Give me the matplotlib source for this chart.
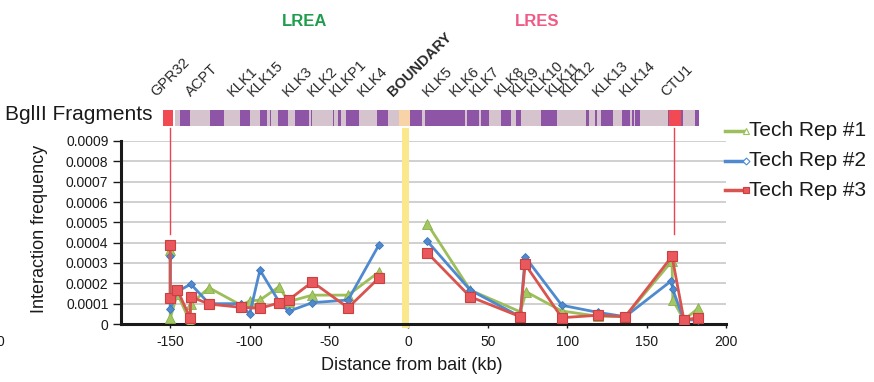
import matplotlib
matplotlib.use("Agg")
import matplotlib.pyplot as plt
import numpy as np
from matplotlib.lines import Line2D
from matplotlib.transforms import blended_transform_factory

plt.rcParams['font.family'] = ['Liberation Sans', 'DejaVu Sans']

# ---------------- data ----------------
rep1_x = [-150, -150, -145.5, -137.5, -137, -125.5, -105.5, -100, -93.5, -81.5, -75.5, -60.5, -38, -18.5,
          11.8, 38.9, 70.4, 74.2, 96.6, 119.5, 136.5, 166, 166.5, 173.5, 182.5]
rep1_y = [0.000363, 0.000028, 0.00015, 0.00001, 0.0001, 0.000178, 0.000093, 0.000113, 0.000118, 0.000183,
          0.00011, 0.000142, 0.000142, 0.000256,
          0.000494, 0.000167, 0.00006, 0.000158, 0.000064, 0.000038, 0.000036, 0.00031, 0.000118, 0.00002, 0.000077]

rep2_x = [-150, -150, -145.5, -137, -125.5, -105.5, -100, -93.5, -81.5, -75.5, -60.5, -38, -18.5,
          11.8, 38.9, 70.4, 73.5, 96.6, 119.5, 136.5, 165.5, 166.5, 173.5, 182.5]
rep2_y = [0.000335, 0.000074, 0.00016, 0.000196, 0.0001, 0.0001, 0.000048, 0.000265, 0.00011, 0.000062,
          0.000105, 0.000118, 0.00039,
          0.000408, 0.000167, 0.000036, 0.00033, 0.000092, 0.000057, 0.000036, 0.000212, 0.00017, 0.00002, 0.00002]

rep3_x = [-150, -150, -145.5, -137.5, -137, -125.5, -105.5, -93.5, -81.5, -75.5, -60.5, -38, -18.5,
          11.8, 38.9, 70.4, 73.5, 96.6, 119.5, 136.5, 166, 173.5, 182.5]
rep3_y = [0.00039, 0.000126, 0.000167, 0.000031, 0.000134, 0.000098, 0.000082, 0.000077, 0.000104, 0.000118,
          0.000207, 0.00008, 0.000227,
          0.000351, 0.000134, 0.000036, 0.000294, 0.000031, 0.000043, 0.000036, 0.000333, 0.00002, 0.000031]

series_names = ['Tech Rep #1', 'Tech Rep #2', 'Tech Rep #3']

gene_names = ['GPR32', 'ACPT', 'KLK1', 'KLK15', 'KLK3', 'KLK2', 'KLKP1', 'KLK4', 'BOUNDARY',
              'KLK5', 'KLK6', 'KLK7', 'KLK8', 'KLK9', 'KLK10', 'KLK11', 'KLK12', 'KLK13', 'KLK14', 'CTU1']
gene_pos = [-159, -137, -110.7, -98, -76, -60.3, -46.6, -28.8, -9.9,
            12.2, 29, 41.6, 57.3, 66.8, 78.3, 89.9, 98.3, 119.3, 136.1, 162.4]

# BglII fragment map (start, end) in kb
frag_light = [(-146.8, 183.3)]
frag_purple = [(-143.7, -137.4), (-124.8, -115.9), (-105.9, -99.6), (-93.3, -89.2), (-87.0, -86.3),
               (-81.9, -75.6), (-71.2, -62.8), (-61.1, -60.5), (-47.3, -46.6), (-44.1, -42.5),
               (-39.1, -31.3), (-19.7, -12.6), (0.9, 8.6), (10.7, 35.7), (37.0, 44.7), (45.4, 51.0),
               (58.0, 64.3), (67.9, 71.2), (83.2, 93.7), (112.0, 114.0), (117.6, 118.9), (121.4, 128.9),
               (134.8, 139.3), (140.7, 141.8), (142.6, 146.0), (163.4, 164.4), (171.8, 172.8), (180.2, 183.3)]
frag_red = [(-154.8, -148.1), (164.4, 171.8)]
frag_boundary = [(-5.7, 0.9)]

boundary_band = (-4.3, 0.6)
bait_marks = [-150, 167]
bait_mark_range = (0.000443, 0.000964)

x_ticks = [-150, -100, -50, 0, 50, 100, 150, 200]
y_ticks = [0, 0.0001, 0.0002, 0.0003, 0.0004, 0.0005, 0.0006, 0.0007, 0.0008, 0.0009]
y_tick_labels = ['0', '0.0001', '0.0002', '0.0003', '0.0004', '0.0005', '0.0006', '0.0007', '0.0008', '0.0009']

# ---------------- figure ----------------
W, H = 874, 382
fig = plt.figure(figsize=(W / 100, H / 100), dpi=100)
fig.patch.set_facecolor('white')

L, R, T, B = 121, 726, 141, 324
ax = fig.add_axes([L / W, 1 - B / H, (R - L) / W, (B - T) / H])
ax.set_xlim(-181, 200)
ax.set_ylim(0, 0.0009)

ax.set_axisbelow(True)
ax.yaxis.grid(True, color='#c4c4c4', lw=1.1)
ax.xaxis.grid(False)
for s in ['top', 'right']:
    ax.spines[s].set_visible(False)
for s in ['left', 'bottom']:
    ax.spines[s].set_linewidth(2.2)
    ax.spines[s].set_color('#1a1a1a')
    ax.spines[s].set_zorder(3)

ax.set_xticks(x_ticks)
ax.set_xticklabels([str(v) for v in x_ticks])
ax.set_yticks(y_ticks)
ax.set_yticklabels(y_tick_labels)
ax.tick_params(axis='y', direction='out', length=6, width=1, pad=3, labelsize=10, colors='#1a1a1a')
ax.tick_params(axis='x', direction='out', length=3, width=1, pad=5, labelsize=10, colors='#1a1a1a')

# boundary band
ax.axvspan(boundary_band[0], boundary_band[1], ymin=-0.022, ymax=1.071, color='#fbe88c',
           clip_on=False, zorder=1, lw=0)

# bait marker lines
for xm in bait_marks:
    ax.plot([xm, xm], bait_mark_range, color='#ea4450', lw=1.0, clip_on=False, zorder=1.5)

# series (line broken at the boundary)
c1, c2, c3 = '#9cbf5b', '#4f8ad0', '#d9534f'
styles = [
    dict(color=c1, lw=2, marker='^', ms=6.5, mfc='#a3c763', mec='#8aae4a', mew=0.6, zorder=4),
    dict(color=c2, lw=2, marker='D', ms=4.5, mfc='#4f8ad0', mec='#3d75b8', mew=0.6, zorder=5),
    dict(color=c3, lw=2, marker='s', ms=7, mfc='#e8585c', mec='#c9403f', mew=0.8, zorder=6),
]
for (xs, ys), st in zip([(rep1_x, rep1_y), (rep2_x, rep2_y), (rep3_x, rep3_y)], styles):
    xs = np.asarray(xs)
    ys = np.asarray(ys)
    for side in (xs < 0, xs > 0):
        ax.plot(xs[side], ys[side], **st)

# axis labels
fig.text(40 / W, 1 - 228.5 / H, 'Interaction frequency', rotation=90, ha='center', va='center',
         fontsize=13, color='#1a1a1a')
fig.text(411.5 / W, 1 - 366 / H, 'Distance from bait (kb)', ha='center', va='center',
         fontsize=13, color='#1a1a1a')
fig.text(0.5 / W, 1 - 342 / H, '0', ha='center', va='center', fontsize=10, color='#1a1a1a')

# fragment bar
fax = fig.add_axes([L / W, 1 - 126 / H, (R - L) / W, 16 / H], sharex=ax)
fax.set_ylim(0, 1)
fax.axis('off')
for a, b in frag_light:
    fax.broken_barh([(a, b - a)], (0, 1), facecolor='#d5c4cd', lw=0)
for a, b in frag_purple:
    fax.broken_barh([(a, b - a)], (0, 1), facecolor='#8e54a5', lw=0)
for a, b in frag_red:
    fax.broken_barh([(a, b - a)], (0, 1), facecolor='#f24a52', lw=0)
for a, b in frag_boundary:
    fax.broken_barh([(a, b - a)], (0, 1), facecolor='#f9d3a8', lw=0)
fig.text(5 / W, 1 - 115 / H, 'BglII Fragments', ha='left', va='center', fontsize=15, color='#1a1a1a')

# gene labels
trans = blended_transform_factory(ax.transData, fig.transFigure)
for name, xp in zip(gene_names, gene_pos):
    bold = name == 'BOUNDARY'
    ax.text(xp, 1 - 97 / H, name, transform=trans, rotation=45, rotation_mode='anchor',
            ha='left', va='baseline', fontsize=10.5, color='#2a2a2a',
            fontweight='bold' if bold else 'normal', clip_on=False)

fig.text(305 / W, 1 - 22 / H, 'LREA', ha='center', va='center', fontsize=12, fontweight='bold',
         color='#1f9d4c')
fig.text(537 / W, 1 - 22 / H, 'LRES', ha='center', va='center', fontsize=12, fontweight='bold',
         color='#ef5a86')

# legend (manual, outside plot)
leg_rows = [130.7, 160.5, 190.0]
leg_style = [(c1, '^', 'white', c1, 4.5), (c2, 'D', 'white', c2, 3.5), (c3, 's', '#e8585c', '#c9403f', 4.5)]
for name, yy, (col, mk, mfc, mec, ms) in zip(series_names, leg_rows, leg_style):
    yf = 1 - yy / H
    fig.add_artist(Line2D([725 / W, 745 / W], [yf, yf], transform=fig.transFigure, color=col, lw=2.5))
    fig.add_artist(Line2D([746 / W], [yf], transform=fig.transFigure, color=col, marker=mk, ms=ms,
                          mfc=mfc, mec=mec, mew=0.8, lw=0))
    fig.text(749 / W, yf, name, ha='left', va='center', fontsize=15, color='#1a1a1a')

fig.savefig('out.png', dpi=100, facecolor='white')
